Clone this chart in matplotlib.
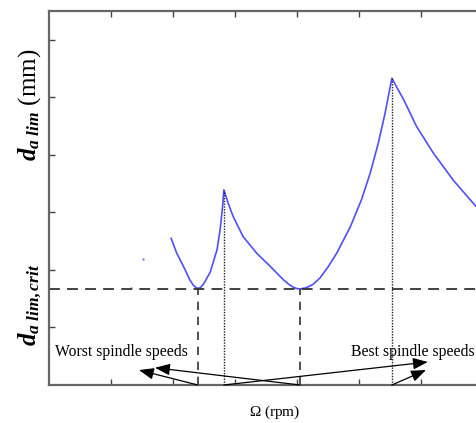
import matplotlib.pyplot as plt

plt.rcParams['font.family'] = ['Liberation Serif', 'DejaVu Serif']
plt.rcParams['mathtext.fontset'] = 'custom'
plt.rcParams['mathtext.rm'] = 'Liberation Serif'
plt.rcParams['mathtext.it'] = 'Liberation Serif:italic'
plt.rcParams['mathtext.bf'] = 'Liberation Serif:bold:italic'

# stability lobe (speed in arbitrary tick units, depth in arbitrary tick units)
omega = [1.97, 2.06, 2.17, 2.27, 2.33, 2.39, 2.44, 2.49, 2.60, 2.71, 2.76, 2.80, 2.82,
         2.89, 2.97, 3.13, 3.35, 3.57, 3.78, 3.88, 3.94, 4.00, 4.05, 4.15, 4.26, 4.37,
         4.50, 4.64, 4.86, 5.04, 5.18, 5.31, 5.42, 5.53, 5.72, 5.93, 6.20, 6.52, 6.89,
         7.20]
d_lim = [2.55, 2.29, 2.06, 1.83, 1.73, 1.68, 1.69, 1.75, 1.96, 2.35, 2.70, 3.10, 3.39,
         3.16, 2.93, 2.58, 2.29, 2.06, 1.83, 1.74, 1.70, 1.675, 1.67, 1.69, 1.75, 1.86,
         2.05, 2.29, 2.75, 3.22, 3.68, 4.20, 4.72, 5.33, 4.96, 4.49, 4.03, 3.56, 3.10,
         2.80]
stray_x = [1.52, 1.32]
stray_y = [2.19, 1.68]

d_crit = 1.67
worst_speeds = [2.40, 4.05]
best_speeds = [2.82, 5.53]
best_peaks = [3.39, 5.33]

worst_tips = [(1.45, 0.26), (1.71, 0.30)]
best_tips = [(6.11, 0.40), (6.08, 0.26)]

fig = plt.figure(figsize=(4.76, 4.23), dpi=100)
ax = fig.add_axes([49 / 476, 38 / 423, 465 / 476, 374 / 423])

ax.plot(omega, d_lim, color='#4f4fff', lw=1.2)
ax.plot(stray_x, stray_y, 's', color='#6f6fff', ms=1.5, mec='none')

ax.axhline(d_crit, color='#333333', ls=(0, (6, 4)), lw=1.3)
for xs in worst_speeds:
    ax.plot([xs, xs], [0, d_crit], color='#333333', ls=(0, (5, 4)), lw=1.2)
for xs, yp in zip(best_speeds, best_peaks):
    ax.plot([xs, xs], [0, yp], color='#222222', ls=(0, (1, 1)), lw=1.0)

arrow = dict(arrowstyle='-|>,head_length=0.9,head_width=0.35', color='black',
             lw=0.9, shrinkA=0, shrinkB=0)
for xs, tip in zip(worst_speeds, worst_tips):
    ax.annotate('', xy=tip, xytext=(xs, 0.0), arrowprops=arrow)
for xs, tip in zip(best_speeds, best_tips):
    ax.annotate('', xy=tip, xytext=(xs, 0.0), arrowprops=arrow)

ax.text(1.17, 0.57, 'Worst spindle speeds', fontsize=11.3, ha='center', va='center')
ax.text(5.86, 0.57, 'Best spindle speeds', fontsize=11.3, ha='center', va='center')

ax.set_xlim(0, 7.5)
ax.set_ylim(0, 6.5)
ax.set_xticks(range(1, 8))
ax.set_yticks(range(1, 7))
ax.set_xticklabels([])
ax.set_yticklabels([])
ax.tick_params(direction='in', length=4, width=1, color='#444444',
               top=True, right=True)
for sp in ax.spines.values():
    sp.set_color('#666666')
    sp.set_linewidth(1.6)

fig.text(275 / 476, 1 - 412 / 423, r'$\Omega$ (rpm)', fontsize=11,
         ha='center', va='center')
fig.text(30 / 476, 1 - 105 / 423, r'$\mathbf{d}_{\mathbf{a\ lim}}$ (mm)',
         fontsize=18, rotation=90, ha='center', va='center')
fig.text(30 / 476, 1 - 305 / 423, r'$\mathbf{d}_{\mathbf{a\ lim,crit}}$',
         fontsize=18, rotation=90, ha='center', va='center')

fig.savefig('out.png', dpi=100)
